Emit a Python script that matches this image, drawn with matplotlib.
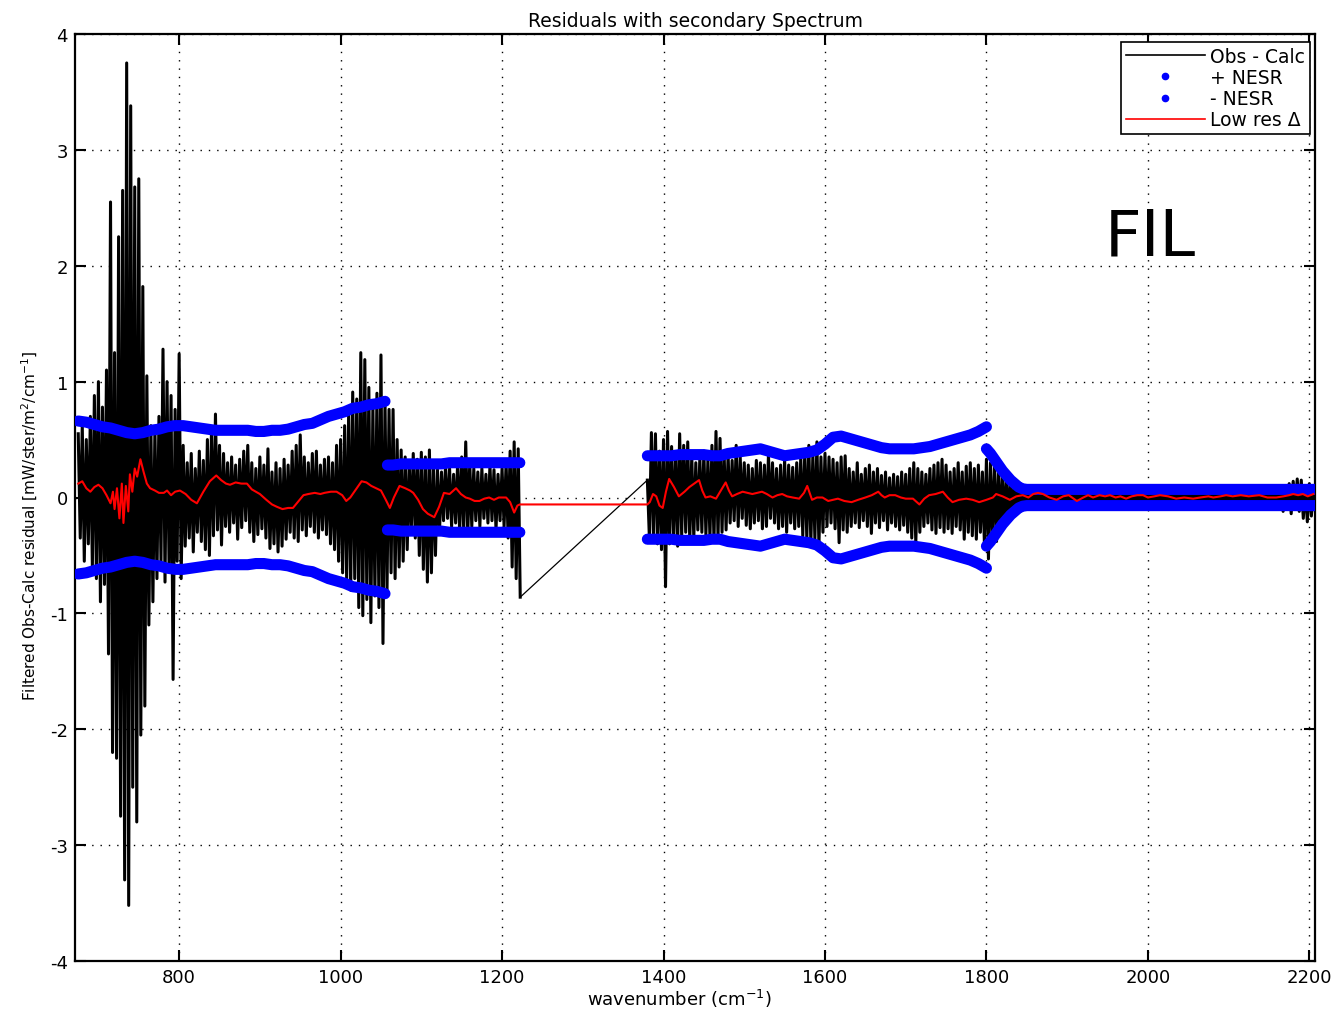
import numpy as np
import matplotlib
matplotlib.use("Agg")
import matplotlib.pyplot as plt
from matplotlib.lines import Line2D

plt.rcParams['axes.unicode_minus'] = False
plt.rcParams['font.family'] = ['DejaVu Sans']

# ---------------- data ----------------
# Obs - Calc residual: spike tops / bottoms every 5 cm-1
obs_wn_a = np.arange(675, 1221, 5)
obs_hi_a = [0.55, 0.62, 0.50, 0.70, 0.88, 1.00, 0.78, 1.10, 2.55, 1.25,
            2.25, 2.65, 3.75, 3.38, 2.68, 2.75, 1.82, 1.05, 0.62, 0.60,
            0.70, 1.28, 1.00, 0.88, 0.76, 1.24, 0.45, 0.30, 0.38, 0.25,
            0.40, 0.32, 0.50, 0.55, 0.72, 0.45, 0.38, 0.30, 0.35, 0.28,
            0.33, 0.40, 0.45, 0.30, 0.25, 0.35, 0.28, 0.42, 0.22, 0.30,
            0.25, 0.33, 0.28, 0.40, 0.45, 0.54, 0.35, 0.30, 0.38, 0.40,
            0.28, 0.33, 0.35, 0.30, 0.45, 0.50, 0.62, 0.75, 0.91, 0.85,
            1.25, 1.19, 0.95, 0.80, 0.90, 1.23, 0.85, 0.76, 0.76, 0.50,
            0.41, 0.35, 0.30, 0.38, 0.33, 0.39, 0.35, 0.41, 0.30, 0.24,
            0.22, 0.28, 0.25, 0.20, 0.30, 0.35, 0.48, 0.30, 0.25, 0.22,
            0.25, 0.20, 0.28, 0.24, 0.20, 0.25, 0.30, 0.40, 0.48, 0.42]
obs_lo_a = [-0.35, -0.55, -0.40, -0.60, -0.70, -0.90, -0.75, -1.35, -2.20, -2.25,
            -2.75, -3.30, -3.52, -2.50, -2.80, -2.05, -1.80, -1.10, -0.90, -0.70,
            -0.55, -0.73, -0.60, -1.57, -0.55, -0.70, -0.42, -0.35, -0.47, -0.30,
            -0.38, -0.45, -0.50, -0.33, -0.28, -0.41, -0.25, -0.30, -0.22, -0.36,
            -0.26, -0.20, -0.30, -0.38, -0.32, -0.27, -0.35, -0.44, -0.40, -0.47,
            -0.42, -0.36, -0.30, -0.35, -0.38, -0.28, -0.33, -0.25, -0.30, -0.35,
            -0.28, -0.32, -0.40, -0.45, -0.55, -0.65, -0.71, -0.80, -0.70, -0.95,
            -1.02, -0.88, -1.08, -0.85, -0.95, -1.26, -0.80, -0.65, -0.70, -0.60,
            -0.55, -0.45, -0.30, -0.35, -0.50, -0.62, -0.73, -0.65, -0.50, -0.30,
            -0.20, -0.18, -0.25, -0.22, -0.30, -0.28, -0.32, -0.25, -0.20, -0.25,
            -0.18, -0.22, -0.20, -0.28, -0.20, -0.25, -0.35, -0.60, -0.70, -0.86]

obs_wn_b = np.arange(1380, 2206, 5)
obs_hi_b = [0.15, 0.56, 0.55, 0.40, 0.50, 0.57, 0.44, 0.38, 0.55, 0.45,
            0.48, 0.36, 0.30, 0.35, 0.40, 0.33, 0.45, 0.57, 0.51, 0.40,
            0.37, 0.32, 0.45, 0.35, 0.30, 0.28, 0.25, 0.32, 0.30, 0.28,
            0.37, 0.30, 0.25, 0.28, 0.33, 0.28, 0.26, 0.30, 0.35, 0.40,
            0.45, 0.37, 0.48, 0.35, 0.38, 0.35, 0.33, 0.30, 0.35, 0.36,
            0.25, 0.22, 0.30, 0.20, 0.25, 0.28, 0.22, 0.25, 0.19, 0.22,
            0.17, 0.20, 0.18, 0.22, 0.20, 0.25, 0.30, 0.25, 0.22, 0.20,
            0.25, 0.28, 0.30, 0.33, 0.28, 0.22, 0.25, 0.30, 0.22, 0.27,
            0.30, 0.25, 0.28, 0.22, 0.33, 0.30, 0.28, 0.25, 0.22, 0.18,
            0.15, 0.12, 0.10, 0.08, 0.06, 0.06, 0.08, 0.05, 0.09, 0.06,
            0.05, 0.07, 0.06, 0.08, 0.05, 0.07, 0.06, 0.05, 0.08, 0.06,
            0.07, 0.05, 0.09, 0.06, 0.08, 0.10, 0.06, 0.07, 0.05, 0.07,
            0.06, 0.08, 0.06, 0.05, 0.07, 0.06, 0.08, 0.07, 0.05, 0.06,
            0.08, 0.06, 0.07, 0.05, 0.06, 0.08, 0.06, 0.07, 0.05, 0.07,
            0.06, 0.08, 0.06, 0.07, 0.05, 0.08, 0.06, 0.07, 0.09, 0.06,
            0.07, 0.05, 0.08, 0.06, 0.07, 0.09, 0.07, 0.10, 0.08, 0.12,
            0.14, 0.16, 0.15, 0.10, 0.12, 0.08]
obs_lo_b = [-0.35, -0.32, -0.40, -0.45, -0.77, -0.40, -0.35, -0.42, -0.33, -0.30,
            -0.38, -0.35, -0.28, -0.30, -0.32, -0.35, -0.38, -0.35, -0.30, -0.28,
            -0.22, -0.20, -0.25, -0.18, -0.24, -0.27, -0.22, -0.20, -0.27, -0.25,
            -0.18, -0.22, -0.27, -0.25, -0.30, -0.22, -0.27, -0.25, -0.33, -0.36,
            -0.40, -0.36, -0.42, -0.30, -0.25, -0.22, -0.27, -0.39, -0.28, -0.30,
            -0.25, -0.22, -0.26, -0.20, -0.25, -0.31, -0.22, -0.26, -0.20, -0.28,
            -0.22, -0.25, -0.28, -0.24, -0.30, -0.35, -0.39, -0.30, -0.25, -0.22,
            -0.28, -0.31, -0.26, -0.30, -0.27, -0.31, -0.25, -0.28, -0.36, -0.30,
            -0.33, -0.36, -0.30, -0.40, -0.53, -0.35, -0.38, -0.30, -0.25, -0.20,
            -0.15, -0.12, -0.10, -0.08, -0.07, -0.08, -0.05, -0.07, -0.06, -0.09,
            -0.06, -0.10, -0.07, -0.06, -0.08, -0.09, -0.06, -0.08, -0.07, -0.06,
            -0.10, -0.07, -0.06, -0.08, -0.07, -0.06, -0.08, -0.07, -0.09, -0.06,
            -0.08, -0.07, -0.06, -0.08, -0.10, -0.07, -0.06, -0.08, -0.07, -0.09,
            -0.06, -0.08, -0.07, -0.06, -0.08, -0.09, -0.07, -0.06, -0.10, -0.08,
            -0.06, -0.07, -0.09, -0.06, -0.08, -0.07, -0.10, -0.08, -0.06, -0.08,
            -0.07, -0.09, -0.08, -0.06, -0.10, -0.08, -0.09, -0.12, -0.10, -0.14,
            -0.10, -0.12, -0.18, -0.21, -0.16, -0.12]

# Low resolution difference (red)
red_wn = [675, 680, 685, 690, 695, 700, 705, 710, 715, 718, 720, 723, 726, 729, 731,
          734, 737, 739, 742, 745, 748, 752, 756, 760, 764, 770, 775, 781, 785, 790,
          795, 801, 808, 815, 822, 830, 838, 846, 852, 858, 863, 870, 877, 884, 890,
          895, 900, 908, 915, 921, 928, 935, 941, 948, 954, 960, 968, 975, 980, 988,
          995, 1002, 1007, 1012, 1020, 1026, 1032, 1038, 1044, 1050, 1056, 1061, 1066,
          1073, 1080, 1086, 1090, 1096, 1102, 1108, 1116, 1122, 1128, 1135, 1143, 1149,
          1155, 1160, 1166, 1172, 1178, 1184, 1190, 1196, 1205, 1210, 1215, 1219, 1222,
          1380, 1383, 1387, 1391, 1395, 1399, 1403, 1407, 1413, 1419, 1426, 1432, 1438,
          1444, 1448, 1452, 1458, 1465, 1471, 1477, 1481, 1485, 1491, 1498, 1504, 1510,
          1516, 1522, 1528, 1535, 1541, 1547, 1553, 1560, 1568, 1574, 1578, 1581, 1584,
          1590, 1597, 1604, 1610, 1616, 1624, 1633, 1641, 1650, 1658, 1666, 1670, 1674,
          1680, 1687, 1694, 1700, 1709, 1717, 1723, 1729, 1737, 1746, 1752, 1758, 1766,
          1775, 1783, 1791, 1800, 1808, 1812, 1820, 1829, 1837, 1845, 1852, 1858, 1864,
          1870, 1878, 1887, 1895, 1902, 1912, 1920, 1926, 1932, 1940, 1947, 1953, 1960,
          1966, 1973, 1980, 1987, 1994, 2000, 2008, 2015, 2025, 2035, 2045, 2056, 2065,
          2075, 2081, 2090, 2097, 2105, 2115, 2125, 2138, 2148, 2159, 2168, 2175, 2180,
          2186, 2192, 2198, 2205]
red_val = [0.12, 0.14, 0.08, 0.05, 0.09, 0.11, 0.08, 0.02, -0.05, 0.05, -0.10, 0.08, -0.18, 0.12, -0.22,
           0.10, -0.12, 0.20, 0.05, 0.25, 0.18, 0.33, 0.22, 0.12, 0.08, 0.06, 0.04, 0.04, 0.06, 0.02,
           0.05, 0.06, 0.03, -0.02, -0.05, 0.05, 0.14, 0.19, 0.15, 0.12, 0.11, 0.13, 0.12, 0.12, 0.07,
           0.05, 0.03, -0.02, -0.06, -0.08, -0.10, -0.09, -0.09, -0.03, 0.02, 0.03, 0.04, 0.03, 0.04, 0.05,
           0.05, 0.02, -0.03, 0.00, 0.08, 0.14, 0.13, 0.10, 0.08, 0.06, -0.02, -0.09, 0.00,
           0.10, 0.08, 0.06, 0.04, -0.02, -0.10, -0.14, -0.17, -0.08, 0.04, 0.03, 0.08, 0.03,
           0.00, -0.01, -0.03, -0.03, -0.01, 0.00, -0.02, 0.00, 0.00, -0.04, -0.13, -0.07, -0.06,
           -0.06, -0.04, 0.03, 0.01, -0.07, -0.09, 0.05, 0.16, 0.09, 0.01, 0.05, 0.09, 0.12,
           0.15, 0.06, 0.00, 0.01, -0.01, 0.06, 0.13, 0.06, 0.01, 0.03, 0.05, 0.04, 0.03,
           0.04, 0.05, 0.03, 0.00, 0.02, 0.03, 0.01, 0.00, -0.01, 0.04, 0.10, 0.04, -0.02,
           0.00, 0.00, -0.03, -0.02, -0.01, -0.03, -0.04, -0.02, 0.00, 0.02, 0.05, 0.02, 0.00,
           0.02, 0.02, 0.00, -0.01, -0.01, -0.06, -0.01, 0.02, 0.03, 0.05, 0.00, -0.04, -0.02,
           -0.01, -0.02, -0.04, -0.02, 0.00, 0.03, 0.01, -0.02, 0.01, 0.02, 0.00, 0.03, 0.04,
           0.03, 0.00, -0.02, 0.01, 0.02, -0.03, 0.00, 0.02, 0.00, 0.02, 0.01, 0.02, 0.00,
           0.01, -0.01, 0.01, 0.02, 0.02, 0.00, 0.01, 0.02, 0.01, -0.01, 0.00, -0.01, 0.00,
           0.01, 0.00, 0.01, 0.02, 0.01, 0.02, 0.01, 0.02, 0.00, 0.00, 0.01, 0.02, 0.03,
           0.02, 0.03, 0.01, 0.03]

# NESR (noise level), segments
nesr1_wn = list(range(675, 1056, 10))
nesr1 = [0.66, 0.65, 0.63, 0.61, 0.60, 0.58, 0.56, 0.55, 0.56, 0.58,
         0.59, 0.61, 0.62, 0.62, 0.61, 0.60, 0.59, 0.58, 0.58, 0.58,
         0.58, 0.58, 0.57, 0.57, 0.58, 0.58, 0.59, 0.61, 0.63, 0.64,
         0.67, 0.70, 0.72, 0.74, 0.77, 0.78, 0.80, 0.81, 0.83]
nesr2_wn = [1058, 1065, 1075, 1085, 1095, 1105, 1115, 1125, 1135, 1145,
            1155, 1165, 1175, 1185, 1195, 1205, 1215, 1222]
nesr2 = [0.28, 0.28, 0.29, 0.29, 0.29, 0.29, 0.29, 0.29, 0.30, 0.30,
         0.30, 0.30, 0.30, 0.30, 0.30, 0.30, 0.30, 0.30]
nesr3_wn = list(range(1380, 1801, 10))
nesr3 = [0.36, 0.36, 0.36, 0.36, 0.37, 0.37, 0.37, 0.37, 0.36, 0.36,
         0.38, 0.39, 0.40, 0.41, 0.42, 0.40, 0.38, 0.36, 0.37, 0.38,
         0.39, 0.41, 0.46, 0.52, 0.53, 0.51, 0.49, 0.47, 0.45, 0.43,
         0.42, 0.42, 0.42, 0.42, 0.43, 0.44, 0.46, 0.48, 0.50, 0.52,
         0.54, 0.57, 0.61]
nesr4_wn = [1800, 1805, 1810, 1815, 1820, 1825, 1830, 1835, 1840, 1845, 1850,
            1900, 1950, 2000, 2050, 2100, 2150, 2207]
nesr4 = [0.42, 0.38, 0.33, 0.28, 0.23, 0.19, 0.15, 0.12, 0.09, 0.075, 0.07,
         0.07, 0.07, 0.07, 0.07, 0.07, 0.07, 0.07]

x_ticks = [800, 1000, 1200, 1400, 1600, 1800, 2000, 2200]
y_ticks = [-4, -3, -2, -1, 0, 1, 2, 3, 4]

# ---------------- build series ----------------
def zig(wn, hi, lo):
    wn = np.asarray(wn, float)
    x = np.column_stack([wn, wn + 2.5]).ravel()
    y = np.column_stack([hi, lo]).ravel()
    return x, y

xa, ya = zig(obs_wn_a, obs_hi_a, obs_lo_a)
xb, yb = zig(obs_wn_b, obs_hi_b, obs_lo_b)

nan = [np.nan]
nesr_x = np.concatenate([nesr1_wn, nan, nesr2_wn, nan, nesr3_wn, nan, nesr4_wn])
nesr_y = np.concatenate([nesr1, nan, nesr2, nan, nesr3, nan, nesr4])

# ---------------- plot ----------------
W, H = 1336, 1012
fig = plt.figure(figsize=(W / 100, H / 100), dpi=100)
ax = fig.add_axes([75 / W, (H - 962) / H, 1240 / W, 927 / H])

# dense residual segments (thick so the spikes merge) + thin gap connector
ax.plot(xa, ya, color='black', lw=2.2, zorder=2)
ax.plot(xb, yb, color='black', lw=2.2, zorder=2)
ax.plot([xa[-1], xb[0]], [ya[-1], yb[0]], color='black', lw=0.9, zorder=2)
ax.plot(nesr_x, nesr_y, color='#0000ff', lw=8, solid_capstyle='round', zorder=3)
ax.plot(nesr_x, -nesr_y, color='#0000ff', lw=8, solid_capstyle='round', zorder=3)
ax.plot(red_wn, red_val, color='#ff0000', lw=1.5, zorder=4)

ax.set_xlim(671, 2207)
ax.set_ylim(-4, 4)
ax.set_xticks(x_ticks)
ax.set_yticks(y_ticks)
ax.grid(True, color='black', linestyle=(0, (1, 5)), linewidth=1.0, zorder=0)
ax.tick_params(direction='in', top=True, right=True, length=8, width=1.5,
               labelsize=13, pad=5)
for s in ax.spines.values():
    s.set_linewidth(1.6)

ax.set_title('Residuals with secondary Spectrum', fontsize=13.5, pad=6)
ax.set_xlabel('wavenumber (cm$^{-1}$)', fontsize=13, labelpad=2)
ax.xaxis.set_label_coords((679 - 75) / 1240, -0.028)
ax.set_ylabel('Filtered Obs-Calc residual [mW/ster/m$^{2}$/cm$^{-1}$]', fontsize=11)
ax.yaxis.set_label_coords(-(75 - 40) / 1240, 0.471)

ax.text(0.867, 0.782, 'FIL', transform=ax.transAxes, fontsize=46,
        ha='center', va='center', color='black')

handles = [
    Line2D([], [], color='black', lw=1.2),
    Line2D([], [], color='#0000ff', lw=0, marker='.', markersize=9),
    Line2D([], [], color='#0000ff', lw=0, marker='.', markersize=9),
    Line2D([], [], color='#ff0000', lw=1.2),
]
labels = ['Obs - Calc', '+ NESR', '- NESR', 'Low res \u0394']
leg = ax.legend(handles, labels, loc='upper right',
                bbox_to_anchor=(1 - 5 / 1240, 1 - 8 / 927), borderaxespad=0,
                fontsize=13.5, handlelength=4.2, handletextpad=0.3,
                labelspacing=0.12, borderpad=0.25, fancybox=False,
                framealpha=1, edgecolor='black')
leg.get_frame().set_linewidth(1.2)

fig.savefig('out.png', dpi=100)
